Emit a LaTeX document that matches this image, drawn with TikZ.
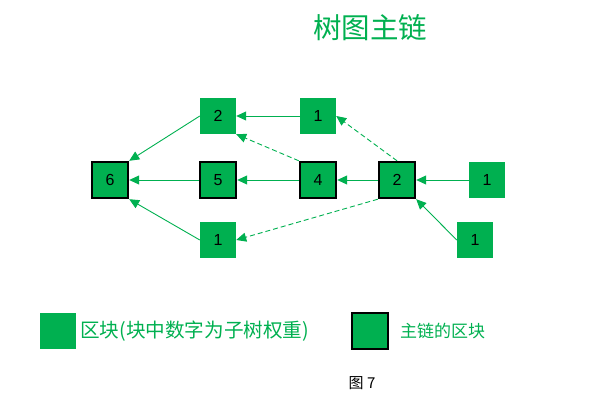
\documentclass[tikz,border=0pt]{standalone}
\usepackage{fontspec}
\setmainfont{Liberation Sans}
\newfontfamily\cjk{Noto Sans CJK SC}
\usetikzlibrary{arrows.meta}
\definecolor{og}{HTML}{00B050}
\tikzset{
  blk/.style={fill=og, minimum size=36pt, inner sep=0pt, font=\fontsize{16}{18}\selectfont},
  mainblk/.style={blk, draw=black, line width=2.4pt},
  edge/.style={draw=og, line width=0.9pt, -{Triangle[length=10pt,width=9pt]}},
  dedge/.style={edge, dash pattern=on 5pt off 3pt},
}
\begin{document}
\begin{tikzpicture}[x=1pt,y=-1pt]
\useasboundingbox (0,0) rectangle (599,414);
\node[text=og, font=\cjk\fontsize{28.5}{30}\selectfont] (title) at (370,28) {树图主链};
\node[blk] (t2) at (218,116) {2};
\node[blk] (t1) at (318,116) {1};
\node[mainblk] (m6) at (110,180) {6};
\node[mainblk] (m5) at (218,180) {5};
\node[mainblk] (m4) at (318,180) {4};
\node[mainblk] (m2) at (397,180) {2};
\node[blk] (r1) at (487,180) {1};
\node[blk] (br1) at (475,240) {1};
\node[blk] (b1) at (218,240) {1};
\draw[edge] (t2.west) -- (m6.north east);
\draw[edge] (t1.west) -- (t2.east);
\draw[dedge] (m4.north west) -- (t2.south east);
\draw[edge] (m5.west) -- (m6.east);
\draw[edge] (m4.west) -- (m5.east);
\draw[edge] (m2.west) -- (m4.east);
\draw[edge] (r1.west) -- (m2.east);
\draw[edge] (br1.west) -- (m2.south east);
\draw[dedge] (m2.north) -- (t1.east);
\draw[dedge] (m2.south west) -- (b1.east);
\draw[edge] (b1.west) -- (m6.south east);
\node[blk] (lg1) at (57.5,331) {};
\node[anchor=west, text=og, inner sep=0pt, font=\cjk\fontsize{19.6}{21}\selectfont] (lt1) at (80,331) {区块(块中数字为子树权重)};
\node[mainblk] (lg2) at (370,331) {};
\node[anchor=west, text=og, inner sep=0pt, font=\cjk\fontsize{17}{19}\selectfont] (lt2) at (400,331) {主链的区块};
\node[font=\cjk\fontsize{15}{17}\selectfont] (cap) at (362,383) {图 7};
\end{tikzpicture}
\end{document}
